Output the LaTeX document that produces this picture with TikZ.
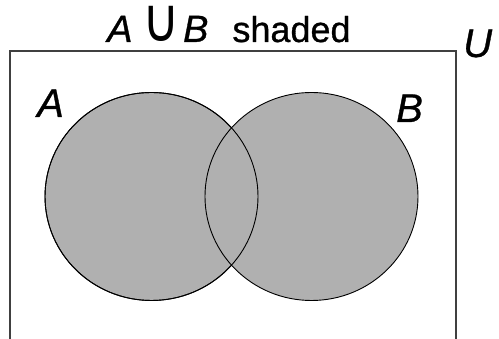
\documentclass[tikz,border=0pt]{standalone}
\usepackage{graphicx}
\usepackage{fontspec}
\setmainfont{Liberation Sans}[FakeBold=0.8]
\newfontfamily\symfont{DejaVu Sans}
\begin{document}
\begin{tikzpicture}[x=1pt,y=1pt,
  setfill/.style={fill=shadegray,draw=black,line width=0.9pt},
  letter/.style={font=\fontsize{40}{40}\selectfont\itshape,inner sep=0pt,anchor=base west},
  frame/.style={draw=black!75,line width=1.4pt}]
\definecolor{shadegray}{RGB}{176,176,176}
\useasboundingbox (0,0) rectangle (499,339);
\fill[white] (0,0) rectangle (499,339);
\coordinate (bl) at (10,-5);
\coordinate (tr) at (456,288);
\draw[frame] (bl) rectangle (tr);
\path[setfill] (151.5,142.5) ellipse [x radius=106.5, y radius=104];
\path[setfill] (311.5,142.5) ellipse [x radius=106.5, y radius=104];
\draw[black,line width=0.9pt] (151.5,142.5) ellipse [x radius=106.5, y radius=104];
\node[letter] (la) at (37,222) {A};
\node[letter] (lb) at (396,217) {B};
\node[letter] (lu) at (463,282) {U};
\node[inner sep=0pt,anchor=base west] (title) at (107,297) {\fontsize{38}{38}\selectfont\itshape A\hspace{10pt}{\upshape\symfont\scalebox{1.35}[1.6]{∪}}\hspace{3pt}B\hspace{24pt}\fontsize{36}{36}\selectfont\upshape shaded};
\end{tikzpicture}
\end{document}
